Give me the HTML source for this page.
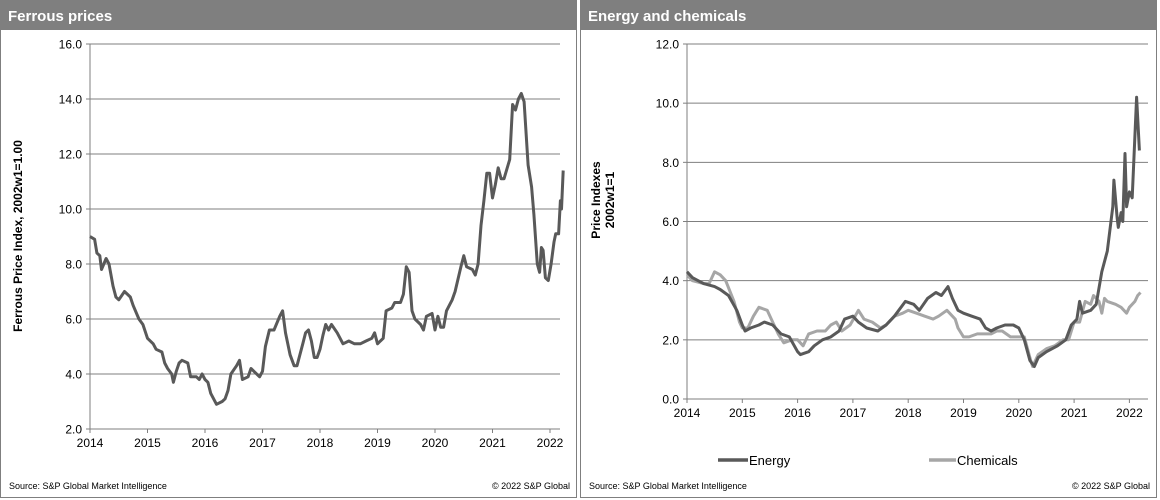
<!DOCTYPE html>
<html><head><meta charset="utf-8"><style>
body{margin:0;width:1160px;height:500px;background:#fff;font-family:"Liberation Sans",Arial,sans-serif;overflow:hidden}
svg{display:block}
</style></head><body>
<svg id="c" width="1160" height="500" xmlns="http://www.w3.org/2000/svg">
<g>
<rect x="0.5" y="0.5" width="576" height="497" fill="#fff" stroke="#7f7f7f"/>
<rect x="0" y="0" width="577" height="30" fill="#7f7f7f"/>
<text x="8" y="21" fill="#fff" font-size="15" font-weight="bold">Ferrous prices</text>
<text transform="translate(22,236) rotate(-90)" text-anchor="middle" font-size="12" font-weight="bold" fill="#000">Ferrous Price Index, 2002w1=1.00</text>
<g id="fg"></g>
<text x="9" y="489" font-size="9" fill="#000">Source: S&amp;P Global Market Intelligence</text>
<text x="570" y="489" font-size="9" fill="#000" text-anchor="end">© 2022 S&amp;P Global</text>
</g>
<g>
<rect x="580.5" y="0.5" width="576" height="497" fill="#fff" stroke="#7f7f7f"/>
<rect x="580" y="0" width="577" height="30" fill="#7f7f7f"/>
<text x="588" y="21" fill="#fff" font-size="15" font-weight="bold">Energy and chemicals</text>
<text transform="translate(600,200) rotate(-90)" text-anchor="middle" font-size="12" font-weight="bold" fill="#000"><tspan x="0" dy="0">Price Indexes</tspan><tspan x="0" dy="14">2002w1=1</tspan></text>
<g id="eg"></g>
<line x1="718" y1="460" x2="748" y2="460" stroke="#595959" stroke-width="3.5"/>
<text x="749" y="465" font-size="13" fill="#000">Energy</text>
<line x1="929" y1="460" x2="956" y2="460" stroke="#a6a6a6" stroke-width="3.5"/>
<text x="957" y="465" font-size="13" fill="#000">Chemicals</text>
<text x="589" y="489" font-size="9" fill="#000">Source: S&amp;P Global Market Intelligence</text>
<text x="1150" y="489" font-size="9" fill="#000" text-anchor="end">© 2022 S&amp;P Global</text>
</g>
</svg>
<script>
const years = [2014,2015,2016,2017,2018,2019,2020,2021,2022];
const ferrousTicks = [2,4,6,8,10,12,14,16];
const energyTicks = [0,2,4,6,8,10,12];
const ferrousDates = [2014.0,2014.08,2014.12,2014.17,2014.2,2014.28,2014.33,2014.4,2014.45,2014.5,2014.6,2014.7,2014.75,2014.85,2014.92,2015.0,2015.1,2015.15,2015.25,2015.3,2015.35,2015.42,2015.45,2015.5,2015.55,2015.6,2015.7,2015.75,2015.85,2015.9,2015.95,2016.0,2016.05,2016.1,2016.15,2016.2,2016.3,2016.35,2016.4,2016.45,2016.55,2016.6,2016.65,2016.75,2016.8,2016.85,2016.95,2017.0,2017.05,2017.12,2017.2,2017.3,2017.35,2017.4,2017.48,2017.55,2017.6,2017.7,2017.75,2017.8,2017.85,2017.9,2017.95,2018.0,2018.05,2018.1,2018.15,2018.2,2018.3,2018.4,2018.5,2018.6,2018.7,2018.8,2018.9,2018.95,2019.0,2019.1,2019.15,2019.25,2019.3,2019.4,2019.45,2019.5,2019.55,2019.6,2019.65,2019.75,2019.8,2019.85,2019.95,2020.0,2020.05,2020.1,2020.15,2020.2,2020.3,2020.35,2020.45,2020.5,2020.55,2020.65,2020.7,2020.75,2020.8,2020.85,2020.9,2020.95,2021.0,2021.05,2021.1,2021.15,2021.2,2021.3,2021.35,2021.4,2021.45,2021.5,2021.55,2021.62,2021.68,2021.72,2021.78,2021.82,2021.85,2021.88,2021.92,2021.97,2022.02,2022.07,2022.1,2022.15,2022.18,2022.2,2022.23];
const ferrousValues = [9.0,8.9,8.4,8.3,7.8,8.2,8.0,7.2,6.8,6.7,7.0,6.8,6.5,6.0,5.8,5.3,5.1,4.9,4.8,4.4,4.2,4.0,3.7,4.1,4.4,4.5,4.4,3.9,3.9,3.8,4.0,3.8,3.7,3.3,3.1,2.9,3.0,3.1,3.4,4.0,4.3,4.5,3.8,3.9,4.2,4.1,3.9,4.1,5.0,5.6,5.6,6.1,6.3,5.5,4.7,4.3,4.3,5.1,5.5,5.6,5.2,4.6,4.6,4.9,5.4,5.8,5.6,5.8,5.5,5.1,5.2,5.1,5.1,5.2,5.3,5.5,5.1,5.3,6.3,6.4,6.6,6.6,6.9,7.9,7.7,6.3,6.0,5.8,5.6,6.1,6.2,5.6,6.1,5.7,5.7,6.3,6.7,7.0,7.9,8.3,7.9,7.8,7.6,8.0,9.4,10.3,11.3,11.3,10.4,10.9,11.5,11.1,11.1,11.8,13.8,13.6,14.0,14.2,13.9,11.6,10.8,9.8,8.0,7.7,8.6,8.5,7.5,7.4,8.0,8.8,9.1,9.1,10.3,10.0,11.4];
const energyDates = [2014.0,2014.1,2014.3,2014.5,2014.6,2014.75,2014.9,2015.0,2015.05,2015.15,2015.3,2015.4,2015.55,2015.7,2015.85,2016.0,2016.05,2016.2,2016.3,2016.45,2016.6,2016.75,2016.85,2017.0,2017.1,2017.25,2017.45,2017.6,2017.75,2017.95,2018.1,2018.2,2018.35,2018.5,2018.6,2018.72,2018.8,2018.9,2019.0,2019.15,2019.3,2019.4,2019.5,2019.6,2019.75,2019.9,2020.0,2020.1,2020.2,2020.28,2020.35,2020.5,2020.7,2020.85,2020.95,2021.05,2021.1,2021.15,2021.3,2021.4,2021.5,2021.6,2021.7,2021.72,2021.78,2021.8,2021.85,2021.88,2021.92,2021.95,2022.0,2022.05,2022.13,2022.18];
const energyValues = [4.3,4.1,3.9,3.8,3.7,3.5,3.0,2.5,2.3,2.4,2.5,2.6,2.5,2.2,2.1,1.6,1.5,1.6,1.8,2.0,2.1,2.3,2.7,2.8,2.6,2.4,2.3,2.5,2.8,3.3,3.2,3.0,3.4,3.6,3.5,3.8,3.4,3.0,2.9,2.8,2.7,2.4,2.3,2.4,2.5,2.5,2.4,2.0,1.3,1.1,1.4,1.6,1.8,2.0,2.5,2.7,3.3,2.9,3.0,3.2,4.3,5.0,6.5,7.4,6.1,5.8,6.3,6.0,8.3,6.5,7.0,6.8,10.2,8.4];
const chemDates = [2014.0,2014.1,2014.3,2014.4,2014.5,2014.6,2014.7,2014.85,2014.95,2015.0,2015.1,2015.2,2015.3,2015.45,2015.55,2015.65,2015.75,2015.9,2016.0,2016.1,2016.2,2016.35,2016.5,2016.6,2016.7,2016.8,2016.95,2017.1,2017.2,2017.35,2017.5,2017.6,2017.75,2017.9,2018.0,2018.15,2018.3,2018.45,2018.55,2018.7,2018.85,2018.9,2019.0,2019.1,2019.25,2019.4,2019.5,2019.6,2019.7,2019.85,2020.0,2020.1,2020.2,2020.25,2020.35,2020.5,2020.65,2020.8,2020.9,2021.0,2021.1,2021.2,2021.3,2021.35,2021.45,2021.5,2021.55,2021.6,2021.75,2021.85,2021.95,2022.0,2022.1,2022.15,2022.2];
const chemValues = [4.2,4.0,3.9,3.9,4.3,4.2,4.0,3.3,2.6,2.4,2.4,2.8,3.1,3.0,2.6,2.2,1.9,2.0,2.0,1.8,2.2,2.3,2.3,2.5,2.6,2.3,2.5,3.0,2.7,2.6,2.4,2.5,2.8,2.9,3.0,2.9,2.8,2.7,2.8,3.0,2.7,2.4,2.1,2.1,2.2,2.2,2.2,2.3,2.3,2.1,2.1,2.1,1.4,1.1,1.5,1.7,1.8,2.0,2.0,2.6,2.6,3.3,3.2,3.5,3.3,2.9,3.4,3.3,3.2,3.1,2.9,3.1,3.3,3.5,3.6];

const NS='http://www.w3.org/2000/svg';
function mk(parent,tag,attrs){const e=document.createElementNS(NS,tag);for(const k in attrs)e.setAttribute(k,attrs[k]);parent.appendChild(e);return e;}

function drawChart(g,o){
  const xs=d=>o.x0+(d-2014)*o.perYear;
  const ys=v=>o.yTop+(o.vMax-v)/(o.vMax-o.vMin)*(o.yBot-o.yTop);
  o.ticks.forEach(t=>{
    if(t!==o.vMin){
      const l=mk(g,'line',{x1:o.x0,x2:o.xEnd,y1:ys(t),y2:ys(t),stroke:'#7f7f7f','stroke-width':1});
      
      
    }
    const tk=mk(g,'line',{x1:o.x0-4,x2:o.x0,y1:ys(t),y2:ys(t),stroke:'#7f7f7f'});
    
    
    const tx=mk(g,'text',{x:o.x0-8,y:ys(t)+4.5,'text-anchor':'end','font-size':12,fill:'#000'});
    tx.textContent=t.toFixed(1);
    
    
  });
  const ax=mk(g,'line',{x1:o.x0,x2:o.x0,y1:o.yTop,y2:o.yBot,stroke:'#7f7f7f'});
  
  
  const bx=mk(g,'line',{x1:o.x0,x2:o.xEnd,y1:o.yBot,y2:o.yBot,stroke:'#7f7f7f'});
  
  
  years.forEach(y=>{
    const tk=mk(g,'line',{x1:xs(y),x2:xs(y),y1:o.yBot,y2:o.yBot+4,stroke:'#7f7f7f'});
    
    
    const tx=mk(g,'text',{x:xs(y),y:o.yBot+18,'text-anchor':'middle','font-size':12,fill:'#000'});
    tx.textContent=y;
    
    
  });
  o.series.forEach(s=>{
    const d=s.dates.map((dt,i)=>(i?'L':'M')+xs(dt).toFixed(1)+','+ys(s.values[i]).toFixed(1)).join('');
    const p=mk(g,'path',{d:d,fill:'none',stroke:s.color,'stroke-width':3,'stroke-linejoin':'round'});
    
    
  });
}
drawChart(document.getElementById('fg'),{x0:90,perYear:57.5,xEnd:560,yTop:44,yBot:429,vMin:2,vMax:16,ticks:ferrousTicks,
  series:[{dates:ferrousDates,values:ferrousValues,color:'#595959',name:'ferrous-line'}]});
drawChart(document.getElementById('eg'),{x0:687,perYear:55.3,xEnd:1148,yTop:44,yBot:399,vMin:0,vMax:12,ticks:energyTicks,
  series:[{dates:chemDates,values:chemValues,color:'#a6a6a6',name:'chemicals-line'},{dates:energyDates,values:energyValues,color:'#595959',name:'energy-line'}]});
</script>
</body></html>
